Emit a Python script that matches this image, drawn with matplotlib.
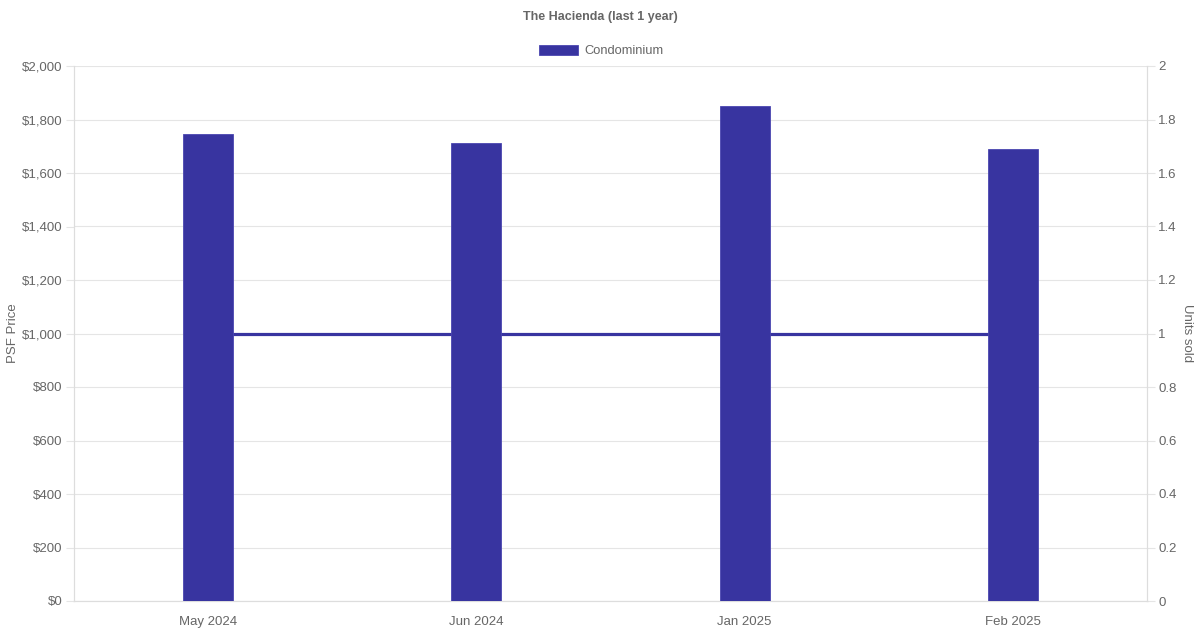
import matplotlib.pyplot as plt
import numpy as np

# data
months = ['May 2024', 'Jun 2024', 'Jan 2025', 'Feb 2025']
psf_price = [1744, 1714, 1852, 1688]
units_sold = [1, 1, 1, 1]

bar_color = '#3834a0'
text_color = '#666666'
grid_color = '#e5e5e5'

plt.rcParams['font.family'] = ['Liberation Sans', 'DejaVu Sans']

fig = plt.figure(figsize=(12, 6.3), dpi=100)
ax = fig.add_axes([74 / 1200, 29 / 630, 1073 / 1200, 535 / 630])
ax2 = ax.twinx()

x = np.arange(len(months))

# units line sits behind the bars; grid lives on the back axes too
ax2.grid(axis='y', color=grid_color, linewidth=0.8, zorder=0)
ax2.plot(x, units_sold, color=bar_color, linewidth=2.3, zorder=2)
ax2.set_ylim(0, 2)
ax2.set_yticks(np.arange(0, 2.01, 0.2))
ax2.set_yticklabels(['0', '0.2', '0.4', '0.6', '0.8', '1', '1.2', '1.4', '1.6', '1.8', '2'])
ax2.set_ylabel('Units sold', rotation=270, color=text_color, fontsize=9.5, labelpad=12)

ax.bar(x, psf_price, width=0.186, color=bar_color, edgecolor='#4a46b0', linewidth=0.6,
       label='Condominium', zorder=3)
ax.set_zorder(ax2.get_zorder() + 1)
ax.patch.set_visible(False)

ax.set_xlim(-0.5, len(months) - 0.5)
ax.set_ylim(0, 2000)
ax.set_yticks(range(0, 2001, 200))
ax.set_yticklabels([f'${v:,}' for v in range(0, 2001, 200)])
ax.set_xticks(x)
ax.set_xticklabels(months)
ax.set_ylabel('PSF Price', color=text_color, fontsize=9.5, labelpad=2)

for a in (ax, ax2):
    for side in a.spines:
        a.spines[side].set_color('#dddddd')
    a.spines['top'].set_visible(False)
    a.tick_params(colors=text_color, labelsize=9.5, length=6, width=0.8)
    a.tick_params(axis='y', color=grid_color, pad=2)
ax.tick_params(axis='x', length=0, pad=11)
ax2.tick_params(axis='x', length=0)

fig.text(0.5, 1 - 17 / 630, 'The Hacienda (last 1 year)', ha='center', va='center',
         fontsize=9, fontweight='bold', color=text_color)
leg = ax.legend(loc='center', bbox_to_anchor=(0.5 - 9 / 1073, 1 + 15 / 535), frameon=False,
                fontsize=9.3, handlelength=3.0, handleheight=0.8, labelcolor=text_color,
                handletextpad=0.5)

fig.savefig('out.png', dpi=100)
